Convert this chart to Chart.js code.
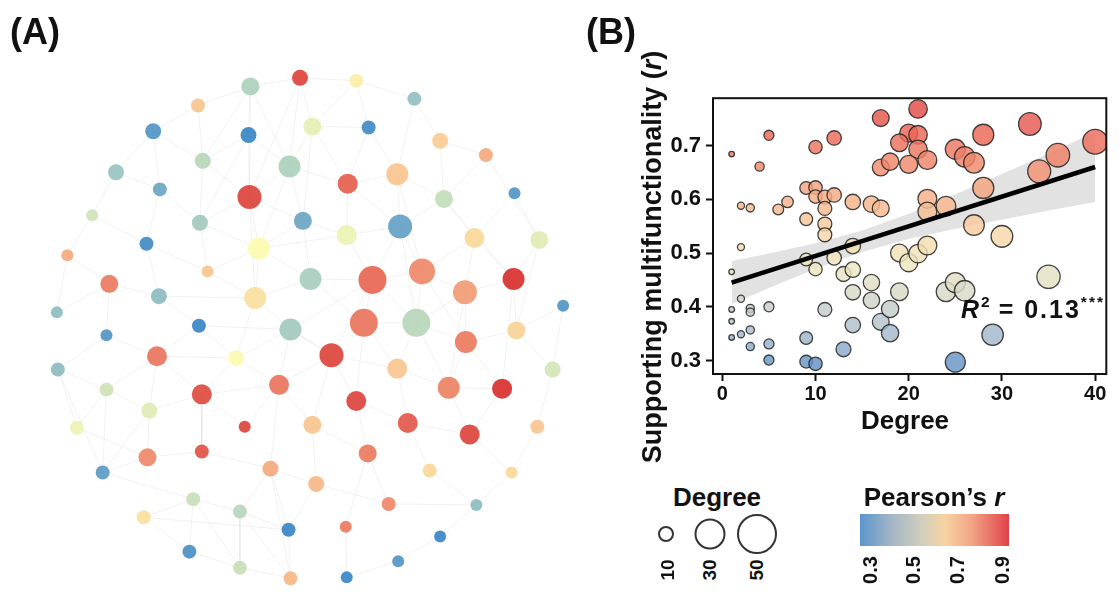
<!DOCTYPE html>
<html>
<head>
<meta charset="utf-8">
<script src="https://cdn.jsdelivr.net/npm/chart.js@4.4.1/dist/chart.umd.min.js"></script>
<style>
    body { margin: 0; width: 1120px; height: 599px; background: #fff; position: relative; overflow: hidden;
           font-family: "Liberation Sans", Arial, sans-serif; color: #111; }
    .abs { position: absolute; white-space: nowrap; font-weight: bold; }
    .mid { transform: translate(-50%, -50%); }
    .rot { transform: translate(-50%, -50%) rotate(-90deg); }
    #net { position: absolute; left: 0; top: 0; }
    #scat { position: absolute; left: 640px; top: 80px; }
    .ring { position: absolute; border: 2.4px solid #333; border-radius: 50%; transform: translate(-50%, -50%); box-sizing: border-box; }
    sup { font-size: 0.62em; vertical-align: 0.7em; line-height: 0; }
</style>
</head>
<body>
<canvas id="net" width="600" height="599"></canvas>
<canvas id="scat" width="480" height="360"></canvas>

<div class="abs" style="left:10px;top:14px;font-size:36px;line-height:36px;">(A)</div>
<div class="abs" style="left:586px;top:14px;font-size:36px;line-height:36px;">(B)</div>

<div class="abs rot" style="left:652px;top:257px;font-size:27px;">Supporting multifunctionality (<i>r</i>)</div>
<div class="abs mid" style="left:905px;top:420px;font-size:26px;">Degree</div>
<div class="abs" style="left:961px;top:297px;font-size:25px;line-height:25px;letter-spacing:2px;"><i>R</i><sup style="letter-spacing:0">2</sup> = 0.13<sup>***</sup></div>

<!-- legenda de tamaño -->
<div class="abs mid" style="left:717px;top:497px;font-size:26px;">Degree</div>
<div class="ring" style="left:666px;top:534px;width:16px;height:16px;"></div>
<div class="ring" style="left:710px;top:534px;width:31px;height:31px;"></div>
<div class="ring" style="left:757px;top:534px;width:40px;height:40px;"></div>
<div class="abs rot" style="left:668px;top:570px;font-size:19px;">10</div>
<div class="abs rot" style="left:710px;top:570px;font-size:19px;">30</div>
<div class="abs rot" style="left:757px;top:570px;font-size:19px;">50</div>

<!-- barra de color -->
<div class="abs mid" style="left:934px;top:497px;font-size:26px;">Pearson’s <i>r</i></div>
<div style="position:absolute;left:860px;top:514px;width:149px;height:32px;
     background:linear-gradient(to right,#5b96cd 0%,#a6b7c5 22%,#d3cfbd 42%,#f7d3a2 57%,#f2a585 75%,#e0424a 100%);"></div>
<div class="abs rot" style="left:870px;top:570px;font-size:20px;">0.3</div>
<div class="abs rot" style="left:913px;top:570px;font-size:20px;">0.5</div>
<div class="abs rot" style="left:957px;top:570px;font-size:20px;">0.7</div>
<div class="abs rot" style="left:1002px;top:570px;font-size:20px;">0.9</div>

<script>
// ---- (A) red: posición del nodo en el dibujo, grado y r de Pearson
const netX = [300,248,193,313,146,246,198,289,107,153,247,82,195,303,139,257,56,203,311,100,152,253,45,
              359,420,372,447,495,350,402,451,525,349,405,483,551,376,428,524,473,576,367,422,527,474,333,
              402,565,456,512,359,313,413,478,549,371,436,522,317,393,485,348,447,403,349,
              194,290,97,150,233,46,278,97,197,142,66,242,140,197,93,269,188,237,136,288,184,237,290];
const netY = [67,76,96,118,123,127,154,160,166,184,192,211,219,217,241,246,253,270,278,283,296,298,313,
              70,89,119,133,148,178,168,194,188,232,223,235,237,279,270,278,292,306,324,324,332,344,358,
              372,373,392,393,406,431,429,441,433,461,479,481,493,514,515,538,548,574,591,
              327,331,337,359,361,373,389,394,399,416,434,433,465,459,481,477,509,522,528,541,564,581,592];
const netDeg = [16,20,12,20,16,16,16,28,16,12,32,8,16,20,12,28,8,8,28,20,16,28,8,
                12,12,12,16,12,24,28,20,8,24,32,24,20,40,36,28,32,8,40,40,20,28,32,
                24,16,28,24,24,20,24,24,12,20,12,8,16,12,8,8,8,8,8,
                12,28,8,24,16,12,24,12,24,16,12,8,20,12,12,16,12,12,12,12,12,12,12];
const netR = [0.87,0.46,0.68,0.56,0.33,0.30,0.48,0.46,0.42,0.36,0.87,0.52,0.44,0.36,0.31,0.60,0.72,0.68,0.45,0.79,0.40,0.64,0.40,
              0.62,0.41,0.31,0.67,0.72,0.83,0.68,0.50,0.33,0.57,0.35,0.65,0.55,0.82,0.77,0.90,0.74,0.33,0.80,0.48,0.66,0.79,0.87,
              0.68,0.53,0.78,0.90,0.87,0.68,0.84,0.87,0.68,0.79,0.65,0.65,0.70,0.77,0.40,0.79,0.30,0.33,0.30,
              0.30,0.44,0.33,0.80,0.60,0.40,0.80,0.52,0.86,0.55,0.57,0.87,0.77,0.85,0.34,0.72,0.51,0.48,0.64,0.30,0.32,0.51,0.70];
const netEdges = [
    [0,1],[0,3],[0,7],[0,10],[0,23],[1,2],[1,5],[1,6],[1,7],[1,10],[2,4],[2,6],[3,7],[3,23],[3,25],[3,28],[3,13],
    [4,6],[4,9],[4,8],[5,6],[5,7],[5,10],[5,12],[6,10],[6,12],[7,10],[7,13],[7,15],[7,28],[8,9],[8,11],[9,12],[9,14],
    [10,12],[10,15],[10,13],[10,21],[11,16],[11,14],[12,15],[12,17],[13,15],[13,18],[13,32],[14,17],[14,20],[15,17],
    [15,18],[15,21],[15,32],[16,19],[16,22],[17,21],[18,21],[18,36],[18,41],[19,20],[19,22],[19,67],[20,21],[20,65],
    [21,66],[21,69],[23,24],[23,25],[24,26],[24,29],[25,28],[25,29],[26,27],[26,30],[27,30],[27,35],[28,29],[28,32],
    [28,33],[29,30],[29,33],[29,37],[30,33],[30,34],[30,38],[31,34],[31,35],[32,33],[32,36],[33,36],[33,37],[33,42],
    [34,37],[34,38],[34,39],[35,38],[35,43],[36,37],[36,41],[36,42],[36,45],[37,39],[37,42],[37,44],[38,39],[38,43],
    [38,49],[39,42],[39,44],[39,48],[40,43],[40,47],[41,42],[41,45],[41,46],[41,50],[42,44],[42,46],[42,48],[43,44],
    [43,47],[44,48],[44,49],[45,46],[45,50],[45,51],[46,48],[46,52],[47,54],[48,49],[48,53],[49,53],[50,52],[50,55],
    [51,55],[51,58],[52,53],[52,56],[53,57],[54,57],[55,59],[56,60],[57,60],[58,59],[59,60],[60,62],[61,64],[62,63],
    [63,64],[55,61],[65,66],[65,69],[65,68],[66,69],[66,71],[66,36],[66,45],[67,68],[67,70],[68,69],[68,72],[68,74],
    [68,73],[69,71],[69,73],[70,72],[70,75],[70,79],[71,73],[71,76],[71,80],[72,74],[72,75],[72,79],[73,74],[73,76],
    [73,78],[74,77],[74,79],[75,77],[77,78],[77,79],[78,80],[79,81],[80,58],[80,82],[80,84],[81,82],[81,83],[81,85],
    [81,86],[82,84],[82,86],[82,87],[83,85],[83,84],[84,87],[85,86],[86,87],[80,87],[58,84],[51,71],[45,71],[45,66]
];

// ---- (B) dispersión: grado vs multifuncionalidad
const scatX = [1,5,4,10,12,17,21,20,21,19,21,17,18,20,22,25,26,27,28,33,40,36,34,28,
               2,3,6,7,9,10,10,11,12,11,9,11,11,14,16,17,22,22,24,27,30,
               2,9,10,12,14,13,14,19,20,21,22,35,
               1,2,1,3,3,5,1,1,2,3,3,5,5,11,9,9,10,13,14,14,16,16,17,18,18,19,24,25,26,25,29];
const scatY = [0.684,0.719,0.661,0.697,0.714,0.751,0.768,0.723,0.720,0.705,0.693,0.659,0.670,0.665,0.673,0.693,0.679,0.668,0.720,0.740,0.707,0.682,0.652,0.621,
               0.588,0.584,0.581,0.595,0.621,0.622,0.605,0.604,0.608,0.583,0.563,0.554,0.534,0.595,0.591,0.583,0.601,0.577,0.587,0.552,0.531,
               0.511,0.488,0.470,0.491,0.513,0.461,0.469,0.500,0.482,0.499,0.514,0.456,
               0.465,0.415,0.395,0.397,0.390,0.400,0.373,0.343,0.349,0.357,0.326,0.331,0.301,0.395,0.342,0.298,0.294,0.321,0.366,0.427,0.445,0.412,0.372,0.396,0.351,0.428,0.428,0.445,0.430,0.297,0.348];
const trendX = [1, 40];
const trendY = [0.445, 0.660];
const bandX  = [1, 5, 10, 15, 20, 25, 30, 35, 40];
const bandLo = [0.405, 0.435, 0.471, 0.502, 0.526, 0.545, 0.562, 0.579, 0.595];
const bandHi = [0.485, 0.499, 0.518, 0.542, 0.573, 0.609, 0.647, 0.685, 0.725];
const xTicks = [0, 10, 20, 30, 40];
const yTicks = [0.3, 0.4, 0.5, 0.6, 0.7];

// paletas
const netStops = [[0.30,'#3a85c6'],[0.40,'#8dbcc0'],[0.50,'#c2ddb9'],[0.60,'#fcfbb0'],[0.68,'#f8c48e'],[0.79,'#ec7b60'],[0.90,'#d8302f']];
const scatStops = [[0.29,'#5f8fc3'],[0.33,'#93b0cc'],[0.38,'#bcc6cb'],[0.43,'#d9dac6'],[0.48,'#efe8c0'],[0.53,'#f7d9aa'],
                   [0.58,'#f6bb90'],[0.63,'#f39e7b'],[0.68,'#ee8066'],[0.73,'#e95f53'],[0.77,'#e24a45']];

function hexRgb(h) {
    return [1, 3, 5].map(i => parseInt(h.slice(i, i + 2), 16));
}
function paletteColor(stops, v, alpha) {
    let rgb = hexRgb(stops[stops.length - 1][1]);
    if (v <= stops[0][0]) rgb = hexRgb(stops[0][1]);
    for (let i = 1; i < stops.length; i++) {
        if (v > stops[i - 1][0] && v <= stops[i][0]) {
            const t = (v - stops[i - 1][0]) / (stops[i][0] - stops[i - 1][0]);
            const a = hexRgb(stops[i - 1][1]), b = hexRgb(stops[i][1]);
            rgb = a.map((c, k) => Math.round(c + (b[k] - c) * t));
            break;
        }
    }
    return `rgba(${rgb[0]},${rgb[1]},${rgb[2]},${alpha})`;
}

Chart.defaults.font.family = '"Liberation Sans", Arial, sans-serif';
Chart.defaults.color = '#111';

// ---- red
const nodes = netX.map((x, i) => ({ x, y: netY[i], r: 4 + netDeg[i] / 4 }));
const edgePts = [];
for (const [a, b] of netEdges) {
    edgePts.push({ x: netX[a], y: netY[a] }, { x: netX[b], y: netY[b] }, { x: netX[b], y: null });
}

new Chart(document.getElementById('net'), {
    type: 'scatter',
    data: {
        datasets: [
            {
                type: 'bubble',
                data: nodes,
                backgroundColor: netR.map(v => paletteColor(netStops, v, 0.92)),
                borderWidth: 0,
                order: 0
            },
            {
                type: 'line',
                data: edgePts,
                borderColor: 'rgba(175,175,180,0.2)',
                borderWidth: 0.8,
                pointRadius: 0,
                spanGaps: false,
                order: 1
            }
        ]
    },
    options: {
        responsive: false,
        animation: false,
        events: [],
        layout: { padding: 0 },
        plugins: { legend: { display: false }, tooltip: { enabled: false } },
        scales: {
            x: { type: 'linear', min: 0, max: 600, display: false },
            y: { type: 'linear', min: 0, max: 599, reverse: true, display: false }
        }
    }
});

// ---- dispersión
const framePlugin = {
    id: 'frame',
    afterDraw(chart) {
        const { ctx, chartArea: a } = chart;
        ctx.save();
        ctx.strokeStyle = '#111';
        ctx.lineWidth = 2;
        ctx.strokeRect(a.left, a.top, a.right - a.left, a.bottom - a.top);
        ctx.restore();
    }
};

const pts = scatX.map((x, i) => ({ x, y: scatY[i] }));
const tickGrid = { display: true, drawOnChartArea: false, drawTicks: true, tickLength: 7, tickWidth: 2, tickColor: '#111' };

new Chart(document.getElementById('scat'), {
    type: 'scatter',
    data: {
        datasets: [
            {
                type: 'line',
                data: trendX.map((x, i) => ({ x, y: trendY[i] })),
                borderColor: '#000',
                borderWidth: 4.5,
                pointRadius: 0,
                order: 0
            },
            {
                data: pts,
                pointRadius: ctx => ctx.raw ? 1 + 1.8 * Math.sqrt(ctx.raw.x) : 3,
                backgroundColor: ctx => ctx.raw ? paletteColor(scatStops, ctx.raw.y, 0.82) : '#ccc',
                borderColor: 'rgba(35,35,35,0.85)',
                borderWidth: 1.3,
                order: 1
            },
            {
                type: 'line',
                data: bandX.map((x, i) => ({ x, y: bandLo[i] })),
                borderWidth: 0,
                pointRadius: 0,
                fill: false,
                order: 3
            },
            {
                type: 'line',
                data: bandX.map((x, i) => ({ x, y: bandHi[i] })),
                borderWidth: 0,
                pointRadius: 0,
                fill: 2,
                backgroundColor: 'rgba(185,185,185,0.42)',
                order: 2
            }
        ]
    },
    options: {
        responsive: false,
        animation: false,
        events: [],
        layout: { padding: { top: 13, right: 11, left: 0, bottom: 0 } },
        plugins: { legend: { display: false }, tooltip: { enabled: false } },
        scales: {
            x: {
                type: 'linear', min: -1, max: 41.2,
                afterBuildTicks: s => { s.ticks = xTicks.map(v => ({ value: v })); },
                afterFit: s => { s.height = 66; },
                grid: tickGrid,
                border: { display: false },
                ticks: { font: { size: 20, weight: 'bold' }, color: '#111', padding: 1, maxRotation: 0 }
            },
            y: {
                type: 'linear', min: 0.275, max: 0.788,
                afterBuildTicks: s => { s.ticks = yTicks.map(v => ({ value: v })); },
                afterFit: s => { s.width = 73; },
                grid: tickGrid,
                border: { display: false },
                ticks: { font: { size: 22, weight: 'bold' }, color: '#111', padding: 5, callback: v => v.toFixed(1) }
            }
        }
    },
    plugins: [framePlugin]
});
</script>
</body>
</html>
